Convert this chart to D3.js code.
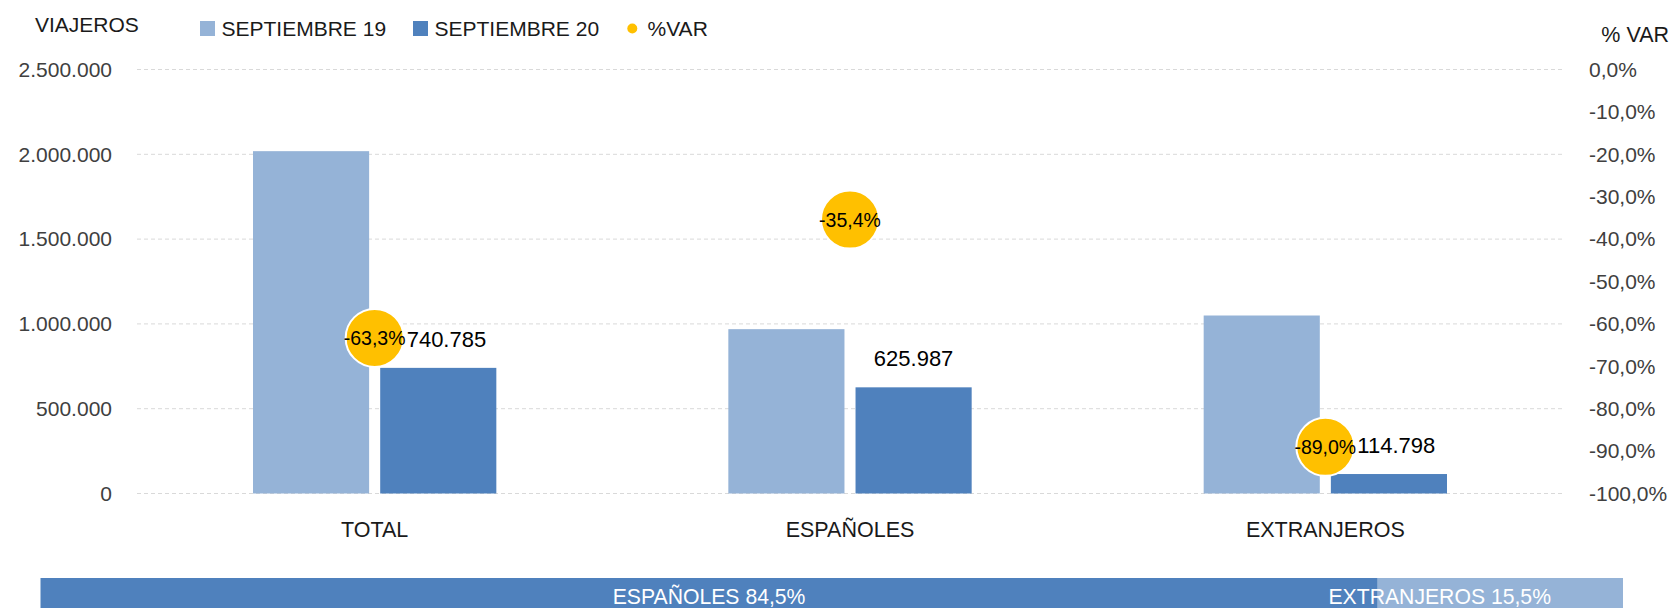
<!DOCTYPE html>
<html>
<head>
	<meta charset="utf-8">
	<title>Viajeros septiembre</title>
	<script src="https://cdnjs.cloudflare.com/ajax/libs/d3/7.8.5/d3.min.js"></script>
	<style>
		body { margin: 0; background: #fff; }
		svg { font-family: "Liberation Sans", Arial, sans-serif; }
		.grid line { stroke: #d9d9d9; stroke-dasharray: 4,3; }
		.axis text { fill: #404040; font-size: 21px; }
	</style>
</head>
<body>
	<svg id="chart" width="1672" height="608"></svg>
	<script>
		// datos
		var categories = ["TOTAL", "ESPAÑOLES", "EXTRANJEROS"];
		var series = ["SEPTIEMBRE 19", "SEPTIEMBRE 20"];
		var sep19 = [2018500, 969000, 1049500];
		var sep20 = [740785, 625987, 114798];
		var varPct = [-0.633, -0.354, -0.890];
		var leftTicks = [0, 500000, 1000000, 1500000, 2000000, 2500000];
		var rightTicks = [0, -0.1, -0.2, -0.3, -0.4, -0.5, -0.6, -0.7, -0.8, -0.9, -1];
		var shareNames = ["ESPAÑOLES", "EXTRANJEROS"];
		var shareValues = [84.5, 15.5];

		var colors = ["#95b3d7", "#4f81bd"];
		var varColor = "#ffc000";

		var es = d3.formatLocale({decimal: ",", thousands: ".", grouping: [3], currency: ["", " €"], minus: "-"});
		var fmtNum = es.format(",d");
		var fmtPct = es.format(".1%");

		var svg = d3.select("#chart");
		var plotL = 137, plotR = 1563, plotT = 69.5, plotB = 493.5;

		var y = d3.scaleLinear().domain([0, 2500000]).range([plotB, plotT]);
		var yVar = d3.scaleLinear().domain([-1, 0]).range([plotB, plotT]);
		var x0 = d3.scaleBand().domain(categories).range([plotL, plotR]).padding(0);
		var x1 = d3.scaleBand().domain(series).range([116, x0.bandwidth() - 116]).paddingInner(0.087);

		// rejilla
		svg.append("g").attr("class", "grid")
			.selectAll("line").data(leftTicks).join("line")
			.attr("x1", plotL).attr("x2", plotR)
			.attr("y1", d => y(d)).attr("y2", d => y(d));

		// ejes
		svg.append("g").attr("class", "axis")
			.attr("transform", "translate(" + plotL + ",0)")
			.call(d3.axisLeft(y).tickValues(leftTicks).tickFormat(fmtNum).tickSize(0).tickPadding(25));
		svg.append("g").attr("class", "axis")
			.attr("transform", "translate(" + plotR + ",0)")
			.call(d3.axisRight(yVar).tickValues(rightTicks).tickFormat(fmtPct).tickSize(0).tickPadding(26));
		svg.selectAll(".axis .domain").remove();
		svg.selectAll(".axis").attr("font-family", null).attr("font-size", null);

		// barras
		var rows = categories.map((c, i) => ({cat: c, vals: [sep19[i], sep20[i]], v: varPct[i]}));
		var groups = svg.append("g").selectAll("g").data(rows).join("g")
			.attr("transform", d => "translate(" + x0(d.cat) + ",0)");
		groups.selectAll("rect").data(d => d.vals.map((v, j) => ({s: series[j], v: v, j: j})))
			.join("rect")
			.attr("x", d => x1(d.s))
			.attr("width", x1.bandwidth())
			.attr("y", d => y(d.v))
			.attr("height", d => y(0) - y(d.v))
			.attr("fill", d => colors[d.j]);

		// etiquetas categorias
		svg.append("g").selectAll("text").data(categories).join("text")
			.attr("x", d => x0(d) + x0.bandwidth() / 2)
			.attr("y", 537)
			.attr("text-anchor", "middle")
			.attr("font-size", 21.5)
			.attr("fill", "#1a1a1a")
			.text(d => d);

		// circulos %VAR y etiquetas de valor
		var cx = d => x0(d.cat) + x0.bandwidth() / 2;
		var rad = 29;
		var valLabels = svg.append("g").selectAll("text").data(rows).join("text")
			.attr("font-size", 22)
			.attr("fill", "#000")
			.attr("y", d => y(d.vals[1]) - 21)
			.text(d => fmtNum(d.vals[1]));
		valLabels.each(function(d) {
			var w = this.getComputedTextLength();
			var xc = x0(d.cat) + x1(series[1]) + x1.bandwidth() / 2;
			var xs = xc - w / 2;
			// se desplaza si choca con el circulo
			var cr = cx(d) + rad + 3;
			var cTop = yVar(d.v) - rad, cBot = yVar(d.v) + rad;
			var ly = y(d.vals[1]) - 21;
			if (xs < cr && ly > cTop && ly - 18 < cBot) xs = cr;
			d3.select(this).attr("x", xs);
		});

		svg.append("g").selectAll("circle").data(rows).join("circle")
			.attr("cx", cx)
			.attr("cy", d => yVar(d.v))
			.attr("r", rad)
			.attr("fill", varColor)
			.attr("stroke", "#fff")
			.attr("stroke-width", 2);
		svg.append("g").selectAll("text").data(rows).join("text")
			.attr("x", cx)
			.attr("y", d => yVar(d.v) + 7)
			.attr("text-anchor", "middle")
			.attr("font-size", 19.5)
			.attr("fill", "#000")
			.text(d => fmtPct(d.v));

		// titulos y leyenda
		svg.append("text").attr("x", 35).attr("y", 32).attr("font-size", 21).attr("fill", "#1a1a1a").text("VIAJEROS");
		svg.append("text").attr("x", 1669).attr("y", 42).attr("text-anchor", "end").attr("font-size", 21.5).attr("fill", "#1a1a1a").text("% VAR");

		var legX = [200, 413];
		series.forEach(function(s, j) {
			svg.append("rect").attr("x", legX[j]).attr("y", 21).attr("width", 15).attr("height", 15).attr("fill", colors[j]);
			svg.append("text").attr("x", legX[j] + 21.5).attr("y", 36).attr("font-size", 21).attr("fill", "#1a1a1a").text(s);
		});
		svg.append("circle").attr("cx", 632.3).attr("cy", 28.5).attr("r", 5).attr("fill", varColor);
		svg.append("text").attr("x", 647.5).attr("y", 36).attr("font-size", 21).attr("fill", "#1a1a1a").text("%VAR");

		// barra de reparto
		var xs = d3.scaleLinear().domain([0, 100]).range([40.5, 1623]);
		var cum = 0;
		var share = shareValues.map((v, i) => { var o = {name: shareNames[i], v: v, a: cum, b: cum + v}; cum += v; return o; });
		svg.append("g").selectAll("rect").data(share).join("rect")
			.attr("x", d => xs(d.a))
			.attr("width", d => xs(d.b) - xs(d.a))
			.attr("y", 578).attr("height", 30)
			.attr("fill", (d, i) => colors[1 - i]);
		svg.append("g").selectAll("text").data(share).join("text")
			.attr("x", (d, i) => i == 0 ? (xs(d.a) + xs(d.b)) / 2 : xs(d.b) - 72)
			.attr("y", 604)
			.attr("text-anchor", (d, i) => i == 0 ? "middle" : "end")
			.attr("font-size", 21.2)
			.attr("fill", "#fff")
			.text(d => d.name + " " + es.format(".1f")(d.v) + "%");
	</script>
</body>
</html>
